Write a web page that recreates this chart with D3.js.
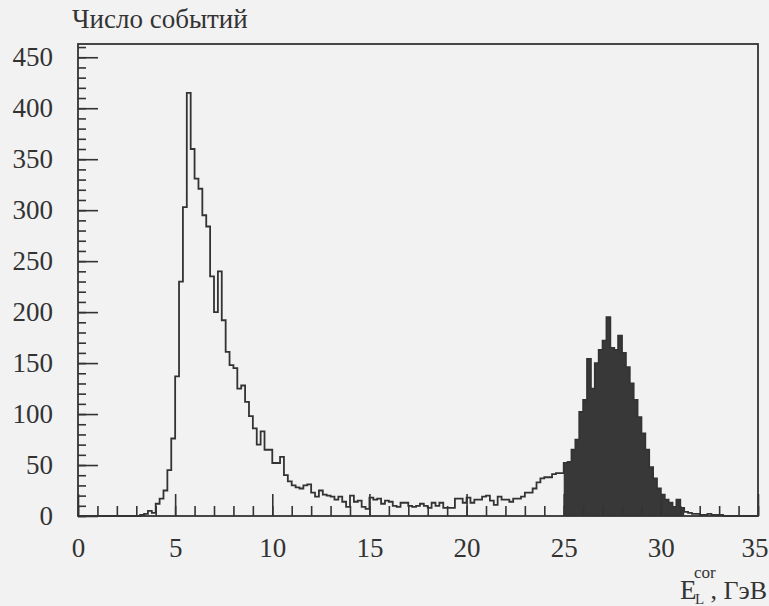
<!DOCTYPE html>
<html>
<head>
<meta charset="utf-8">
<script src="https://cdn.jsdelivr.net/npm/d3@7"></script>
<style>
	body { margin: 0; background: #f2f2f2; }
	svg { display: block; }
	text { font-family: "Liberation Serif", "Times New Roman", Times, "DejaVu Serif", "Noto Serif", serif; }
</style>
</head>
<body>
<svg id="chart" width="769" height="606"></svg>
<script>
// energy range and binning of the histogram (GeV)
const energyRange = [0, 35];
const binWidth = 0.2;

// counts per 0.2 GeV bin
const countsLow = [		// 0 - 10 GeV
	0,0,0,0,0, 0,0,0,0,0, 0,0,0,0,0,
	0,1,2,5,3, 12,17,25,45,76,
	137,230,303,415,360, 331,321,295,284,235,
	200,240,192,161,148, 145,125,128,112,98,
	86,70,83,65,65
];
const countsMid = [		// 10 - 20 GeV
	52,52,58,40,34, 30,28,27,30,31,
	23,19,25,21,20, 19,16,19,14,9,
	20,14,15,9,7, 18,16,17,12,15,
	14,10,9,13,13, 10,9,10,12,10,
	8,13,10,13,8, 8,8,17,17,13
];
const countsHigh = [	// 20 - 35 GeV
	18,13,16,16,19, 20,15,11,19,16,
	16,14,17,17,19, 23,23,27,33,37,
	38,38,41,42,42, 52,53,65,75,102,
	114,154,125,150,163, 172,195,165,163,177,
	160,146,130,114,97, 81,65,48,37,27,
	21,16,13,9,16, 8,4,3,2,2,
	1,1,2,1,1, 1,0,0,0,0,
	0,0,0,0,0
];

// energy window of the shaded (selected) events
const filledRange = [25, 31.2];

const xTicks = [0, 5, 10, 15, 20, 25, 30, 35];
const yTicks = [0, 50, 100, 150, 200, 250, 300, 350, 400, 450];
const yTitle = "Число событий";

const serif = '"Liberation Serif", "Times New Roman", Times, "DejaVu Serif", "Noto Serif", serif';

class Histogram {
	constructor(counts, config) {
		this.counts = counts;
		this.config = config;
	}

	transform_data() {
		let bins = [];
		for (let i = 0; i < this.counts.length; i++) {
			bins.push({"x0": i * binWidth, "count": this.counts[i]});
		}
		// closing point so the last step reaches the right edge
		bins.push({"x0": energyRange[1], "count": this.counts[this.counts.length - 1]});
		this.bins = bins;

		let first = Math.round(filledRange[0] / binWidth);
		let last = Math.round(filledRange[1] / binWidth);
		this.filledBins = bins.slice(first, last);
		this.filledBins.push({"x0": filledRange[1], "count": this.counts[last - 1]});

		return this;
	}

	create_scales() {
		let c = this.config;
		this.xScale = d3.scaleLinear().domain(energyRange).range([c.left, c.right]);
		this.yScale = d3.scaleLinear().domain([0, c.yMax]).range([c.bottom, c.top]);
		return this;
	}

	add_histogram() {
		const canvas = d3.select(this.config.domElementId);
		let xScale = this.xScale;
		let yScale = this.yScale;

		let area = d3.area()
					 .curve(d3.curveStepAfter)
					 .x(d => xScale(d.x0))
					 .y0(yScale(0))
					 .y1(d => yScale(d.count));

		canvas.append("path")
			  .datum(this.filledBins)
			  .attr("fill", "#383838")
			  .attr("d", area);

		let line = d3.line()
					 .curve(d3.curveStepAfter)
					 .x(d => xScale(d.x0))
					 .y(d => yScale(d.count));

		canvas.append("path")
			  .datum(this.bins)
			  .attr("fill", "none")
			  .attr("stroke", "#333")
			  .attr("stroke-width", 1.8)
			  .attr("d", line);

		return this;
	}

	#style_axis(g) {
		g.attr("font-family", serif).attr("font-size", 27);
		g.select(".domain").remove();
		g.selectAll(".tick line").attr("stroke", "#333").attr("stroke-width", 1.6);
		g.selectAll(".tick text").attr("fill", "#333");
	}

	create_axes() {
		const canvas = d3.select(this.config.domElementId);
		let c = this.config;

		let yMinor = d3.axisLeft(this.yScale)
					   .tickValues(d3.range(0, c.yMax, 10))
					   .tickSize(-8)
					   .tickFormat("");
		canvas.append("g")
			  .attr("transform", `translate(${c.left},0)`)
			  .call(yMinor)
			  .call(g => this.#style_axis(g));

		let yMajor = d3.axisLeft(this.yScale)
					   .tickValues(yTicks)
					   .tickSize(-20)
					   .tickPadding(25);
		canvas.append("g")
			  .attr("transform", `translate(${c.left},0)`)
			  .call(yMajor)
			  .call(g => this.#style_axis(g));

		let xMinor = d3.axisBottom(this.xScale)
					   .tickValues(d3.range(0, energyRange[1] + 1, 1))
					   .tickSize(-10)
					   .tickFormat("");
		canvas.append("g")
			  .attr("transform", `translate(0,${c.bottom})`)
			  .call(xMinor)
			  .call(g => this.#style_axis(g));

		let xMajor = d3.axisBottom(this.xScale)
					   .tickValues(xTicks)
					   .tickSize(-22)
					   .tickPadding(22);
		canvas.append("g")
			  .attr("transform", `translate(0,${c.bottom})`)
			  .call(xMajor)
			  .call(g => this.#style_axis(g))
			  // last label sits at the page edge: keep it inside
			  .call(g => g.selectAll(".tick text")
						  .filter(d => d === energyRange[1])
						  .attr("text-anchor", "end")
						  .attr("dx", 10));

		canvas.append("rect")
			  .attr("x", c.left)
			  .attr("y", c.top)
			  .attr("width", c.right - c.left)
			  .attr("height", c.bottom - c.top)
			  .attr("fill", "none")
			  .attr("stroke", "#333")
			  .attr("stroke-width", 1.8);

		return this;
	}

	add_labels() {
		const canvas = d3.select(this.config.domElementId);

		canvas.append("text")
			  .attr("x", 72)
			  .attr("y", 28)
			  .attr("fill", "#333")
			  .attr("font-family", serif)
			  .attr("font-size", 27)
			  .text(yTitle);

		let xLabel = canvas.append("g")
						   .attr("fill", "#333")
						   .attr("font-family", serif);
		xLabel.append("text").attr("x", 680).attr("y", 599).attr("font-size", 27).text("E");
		xLabel.append("text").attr("x", 695).attr("y", 604).attr("font-size", 15).text("L");
		xLabel.append("text").attr("x", 694).attr("y", 578).attr("font-size", 17).text("cor");
		xLabel.append("text").attr("x", 767).attr("y", 599).attr("text-anchor", "end")
			  .attr("font-size", 26).text(", ГэВ");

		return this;
	}

	generate() {
		this.transform_data()
			.create_scales()
			.add_histogram()
			.create_axes()
			.add_labels();
	}
}

const counts = countsLow.concat(countsMid, countsHigh);

d3.select("#chart").append("rect")
  .attr("width", 769).attr("height", 606).attr("fill", "#f2f2f2");

new Histogram(counts, {
	"domElementId": "#chart",
	"left": 78,
	"right": 758,
	"top": 44,
	"bottom": 516,
	"yMax": 463
}).generate();
</script>
</body>
</html>
